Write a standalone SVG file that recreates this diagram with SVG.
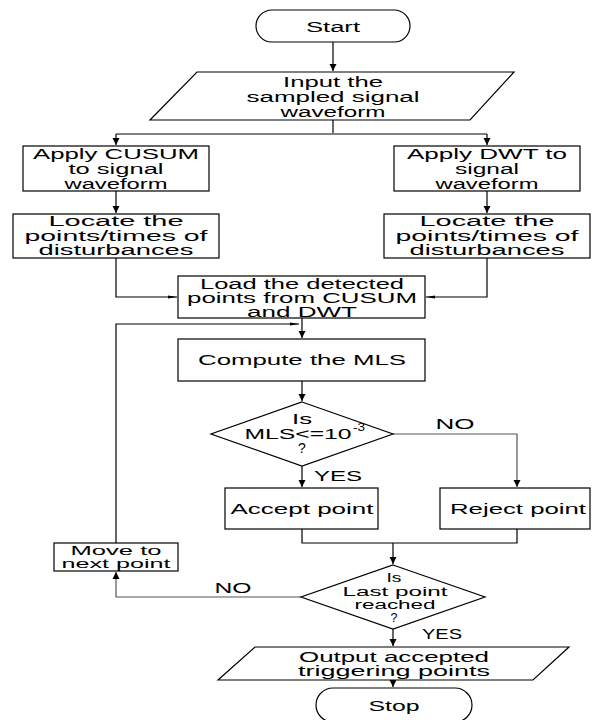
<svg xmlns="http://www.w3.org/2000/svg" width="593" height="720" viewBox="0 0 593 720">
<style>
.s{fill:#fff;stroke:#000;stroke-width:1.2}
.t{font-family:"Liberation Sans",Arial,sans-serif;font-size:14px;fill:#000;text-anchor:middle}
.sm{font-size:10px}
.n{font-size:12.5px}
.c{fill:none;stroke:#000;stroke-width:1.2}
.g{fill:none;stroke:#555;stroke-width:1.2}
</style>
<defs>
<marker id="a" markerWidth="8" markerHeight="8" refX="7" refY="4" orient="auto" markerUnits="userSpaceOnUse">
<path d="M0,0.5 L7,4 L0,7.5 Z" fill="#000"/>
</marker>
<marker id="b" markerWidth="10" markerHeight="6" refX="9" refY="3" orient="auto" markerUnits="userSpaceOnUse">
<path d="M0,1.5 L9,3 L0,4.5 Z" fill="#000"/>
</marker>
</defs>
<g id="connectors">
<path class="c" d="M333,42 V71" marker-end="url(#a)"/>
<path class="c" d="M333,120 V133"/>
<path class="c" d="M116,134 H487"/>
<path class="c" d="M116,134 V145" marker-end="url(#a)"/>
<path class="c" d="M487,134 V145" marker-end="url(#a)"/>
<path class="c" d="M116,191 V213" marker-end="url(#a)"/>
<path class="c" d="M487,191 V213" marker-end="url(#a)"/>
<path class="c" d="M116,258 V297 H177" marker-end="url(#b)"/>
<path class="c" d="M487,258 V297 H426" marker-end="url(#b)"/>
<path class="c" d="M302,318 V338" marker-end="url(#a)"/>
<path class="c" d="M116,543 V324 H299" marker-end="url(#b)"/>
<path class="c" d="M302,381 V401" marker-end="url(#a)"/>
<path class="g" d="M393,434 H517 V487" marker-end="url(#a)"/>
<path class="c" d="M302,466 V487" marker-end="url(#a)"/>
<path class="c" d="M302,529 V543 H517 V529"/>
<path class="c" d="M393,543 V564" marker-end="url(#a)"/>
<path class="g" d="M301,597 H116 V572" marker-end="url(#a)"/>
<path class="c" d="M393,629 V646" marker-end="url(#a)"/>
<path class="c" d="M393,680 V687" marker-end="url(#a)"/>
<text class="t" x="455" y="429" textLength="39" lengthAdjust="spacingAndGlyphs">NO</text>
<text class="t" x="338" y="481" textLength="48" lengthAdjust="spacingAndGlyphs">YES</text>
<text class="t" x="233" y="593" textLength="37" lengthAdjust="spacingAndGlyphs">NO</text>
<text class="t" x="442" y="639" textLength="40" lengthAdjust="spacingAndGlyphs">YES</text>
</g>
<g id="start">
<rect class="s" x="256" y="10" width="154" height="32" rx="16"/>
<text class="t" x="333" y="32" textLength="54" lengthAdjust="spacingAndGlyphs">Start</text>
</g>
<g id="input">
<polygon class="s" points="197,72 514,72 470,120 150,120"/>
<text class="t" x="333" y="87" textLength="100" lengthAdjust="spacingAndGlyphs">Input the</text>
<text class="t" x="333" y="102" textLength="173" lengthAdjust="spacingAndGlyphs">sampled signal</text>
<text class="t" x="333" y="117" textLength="105" lengthAdjust="spacingAndGlyphs">waveform</text>
</g>
<g id="cusum">
<rect class="s" x="23" y="146" width="186" height="45"/>
<text class="t" x="116" y="159" textLength="166" lengthAdjust="spacingAndGlyphs">Apply CUSUM</text>
<text class="t" x="116" y="174" textLength="95" lengthAdjust="spacingAndGlyphs">to signal</text>
<text class="t" x="116" y="189" textLength="103" lengthAdjust="spacingAndGlyphs">waveform</text>
</g>
<g id="dwt">
<rect class="s" x="394" y="146" width="186" height="45"/>
<text class="t" x="487" y="159" textLength="160" lengthAdjust="spacingAndGlyphs">Apply DWT to</text>
<text class="t" x="487" y="174" textLength="64" lengthAdjust="spacingAndGlyphs">signal</text>
<text class="t" x="487" y="189" textLength="103" lengthAdjust="spacingAndGlyphs">waveform</text>
</g>
<g id="locate1">
<rect class="s" x="13" y="214" width="206" height="44"/>
<text class="t" x="116" y="226" textLength="135" lengthAdjust="spacingAndGlyphs">Locate the</text>
<text class="t" x="116" y="241" textLength="183" lengthAdjust="spacingAndGlyphs">points/times of</text>
<text class="t" x="116" y="255" textLength="155" lengthAdjust="spacingAndGlyphs">disturbances</text>
</g>
<g id="locate2">
<rect class="s" x="384" y="214" width="206" height="44"/>
<text class="t" x="487" y="226" textLength="135" lengthAdjust="spacingAndGlyphs">Locate the</text>
<text class="t" x="487" y="241" textLength="183" lengthAdjust="spacingAndGlyphs">points/times of</text>
<text class="t" x="487" y="255" textLength="155" lengthAdjust="spacingAndGlyphs">disturbances</text>
</g>
<g id="load">
<rect class="s" x="178" y="276" width="247" height="42"/>
<text class="t" x="302" y="289" textLength="204" lengthAdjust="spacingAndGlyphs">Load the detected</text>
<text class="t" x="302" y="303" textLength="230" lengthAdjust="spacingAndGlyphs">points from CUSUM</text>
<text class="t" x="302" y="317" textLength="110" lengthAdjust="spacingAndGlyphs">and DWT</text>
</g>
<g id="compute">
<rect class="s" x="178" y="339" width="247" height="42"/>
<text class="t" x="302" y="365" textLength="208" lengthAdjust="spacingAndGlyphs">Compute the MLS</text>
</g>
<g id="decision1">
<polygon class="s" points="302,402 393,434 302,466 211,434"/>
<text class="t" x="302" y="424" textLength="20" lengthAdjust="spacingAndGlyphs">Is</text>
<text class="t" x="298" y="439" textLength="107" lengthAdjust="spacingAndGlyphs">MLS&lt;=10</text>
<text class="t sm" x="359" y="431" textLength="12" lengthAdjust="spacingAndGlyphs">-3</text>
<text class="t" x="302" y="453">?</text>
</g>
<g id="accept">
<rect class="s" x="225" y="488" width="153" height="41"/>
<text class="t" x="302" y="514" textLength="143" lengthAdjust="spacingAndGlyphs">Accept point</text>
</g>
<g id="reject">
<rect class="s" x="440" y="488" width="150" height="41"/>
<text class="t" x="518" y="514" textLength="136" lengthAdjust="spacingAndGlyphs">Reject point</text>
</g>
<g id="move">
<rect class="s" x="54" y="543" width="124" height="28"/>
<text class="t n" x="116" y="555" textLength="91" lengthAdjust="spacingAndGlyphs">Move to</text>
<text class="t n" x="116" y="568" textLength="109" lengthAdjust="spacingAndGlyphs">next point</text>
</g>
<g id="decision2">
<polygon class="s" points="393,565 485,597 393,629 301,597"/>
<text class="t n" x="394" y="582" textLength="15" lengthAdjust="spacingAndGlyphs">Is</text>
<text class="t n" x="395" y="596" textLength="105" lengthAdjust="spacingAndGlyphs">Last point</text>
<text class="t n" x="395" y="609" textLength="81" lengthAdjust="spacingAndGlyphs">reached</text>
<text class="t n" x="394" y="622">?</text>
</g>
<g id="output">
<polygon class="s" points="255,647 569,647 533,680 218,680"/>
<text class="t" x="394" y="662" textLength="190" lengthAdjust="spacingAndGlyphs">Output accepted</text>
<text class="t" x="394" y="676" textLength="192" lengthAdjust="spacingAndGlyphs">triggering points</text>
</g>
<g id="stop">
<rect class="s" x="316" y="688" width="156" height="34" rx="17"/>
<text class="t" x="394" y="711" textLength="51" lengthAdjust="spacingAndGlyphs">Stop</text>
</g>
</svg>
